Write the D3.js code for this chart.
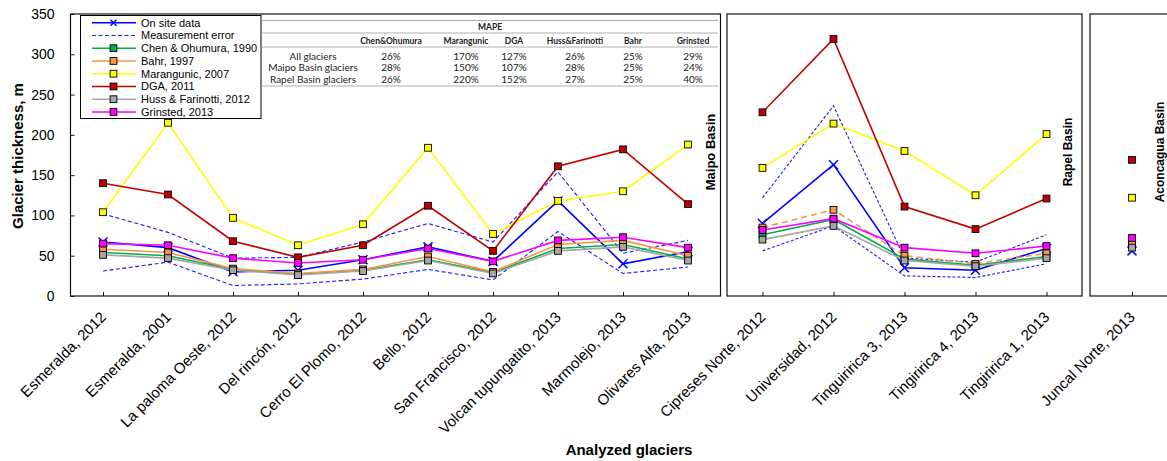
<!DOCTYPE html>
<html>
<head>
<meta charset="utf-8">
<script src="https://cdn.jsdelivr.net/npm/d3@7/dist/d3.min.js"></script>
<style>
  html, body { margin: 0; padding: 0; background: #fff; }
  svg { display: block; }
  text { font-family: "Liberation Sans", Arial, sans-serif; fill: #000; }
</style>
</head>
<body>
<script>
// ---------------- DATA ----------------
const maipoGlaciers = ["Esmeralda, 2012","Esmeralda, 2001","La paloma Oeste, 2012","Del rincón, 2012","Cerro El Plomo, 2012","Bello, 2012","San Francisco, 2012","Volcan tupungatito, 2013","Marmolejo, 2013","Olivares Alfa, 2013"];
const rapelGlaciers = ["Cipreses Norte, 2012","Universidad, 2012","Tinguiririca 3, 2013","Tingiririca 4, 2013","Tingiririca 1, 2013"];
const aconcaguaGlaciers = ["Juncal Norte, 2013"];

// values in glacier order: 10 Maipo, 5 Rapel, 1 Aconcagua
const onSite     = [67, 60, 30, 32, 45, 61, 43, 118, 40, 55,   90, 163, 35, 32, 59,   56];
const errUpper   = [102, 79, 47, 48, 67, 90, 67, 154, 53, 69,  122, 236, 47, 42, 76,  null];
const errLower   = [31, 42, 13, 15, 21, 33, 20, 80, 28, 36,    56, 87, 25, 23, 40,    null];
const chen       = [54, 50, 33, 27, 32, 45, 29, 59, 64, 46,    76, 95, 46, 38, 49,    64];
const bahr       = [58, 54, 34, 28, 33, 49, 30, 64, 69, 50,    85, 107, 50, 40, 53,   67];
const marangunic = [104, 215, 97, 63, 89, 184, 77, 118, 130, 188, 159, 214, 180, 125, 201, 122];
const dga        = [140, 126, 68, 48, 63, 112, 56, 161, 182, 114, 228, 319, 111, 83, 121, 169];
const huss       = [51, 47, 32, 26, 31, 44, 28, 56, 61, 44,    70, 87, 44, 37, 47,    60];
const grinsted   = [65, 63, 47, 41, 45, 59, 43, 69, 73, 60,    82, 96, 60, 53, 62,    72];

const yTicks = [0, 50, 100, 150, 200, 250, 300, 350];

const mapeColumns = ["Chen&Ohumura","Marangunic","DGA","Huss&Farinotti","Bahr","Grinsted"];
const mapeRows = ["All glaciers","Maipo Basin glaciers","Rapel Basin glaciers"];
const mapeAll   = ["26%","170%","127%","26%","25%","29%"];
const mapeMaipo = ["28%","150%","107%","28%","25%","24%"];
const mapeRapel = ["26%","220%","152%","27%","25%","40%"];

// ---------------- SETUP ----------------
const W = 1167, H = 461;
const svg = d3.select("body").append("svg").attr("width", W).attr("height", H);

const y = d3.scaleLinear().domain([0, 350]).range([296, 14]);

const panels = [
  {name: "Maipo Basin", cats: maipoGlaciers, x0: 70.5, x1: 720.5, offset: 0, labelX: 710, labelSize: 13},
  {name: "Rapel Basin", cats: rapelGlaciers, x0: 727, x1: 1082, offset: 10, labelX: 1068, labelSize: 12},
  {name: "Aconcagua Basin", cats: aconcaguaGlaciers, x0: 1090, x1: 1174, offset: 15, labelX: 1160, labelSize: 12}
];
panels.forEach(p => {
  p.x = d3.scalePoint().domain(p.cats).range([p.x0, p.x1]).padding(0.5);
});

const series = [
  {key: "onsite", label: "On site data", values: onSite, color: "#0000ff", marker: "x", width: 1.6},
  {key: "errU", label: "Measurement error", values: errUpper, color: "#1a1aff", marker: null, width: 1.1, dash: "4,2.5"},
  {key: "errL", label: null, values: errLower, color: "#1a1aff", marker: null, width: 1.1, dash: "4,2.5"},
  {key: "chen", label: "Chen & Ohumura, 1990", values: chen, color: "#00b050", marker: "sq", width: 1.6},
  {key: "bahr", label: "Bahr, 1997", values: bahr, color: "#f79646", marker: "sq", width: 1.6},
  {key: "mar", label: "Marangunic, 2007", values: marangunic, color: "#ffff00", marker: "sq", width: 1.6},
  {key: "dga", label: "DGA, 2011", values: dga, color: "#c00000", marker: "sq", width: 1.6},
  {key: "huss", label: "Huss & Farinotti, 2012", values: huss, color: "#a6a6a6", marker: "sq", width: 1.6},
  {key: "grin", label: "Grinsted, 2013", values: grinsted, color: "#ff00ff", marker: "sq", width: 1.6}
];

// frames
panels.forEach(p => {
  svg.append("rect")
    .attr("x", p.x0).attr("y", 14)
    .attr("width", p.x1 - p.x0).attr("height", 282)
    .attr("fill", "#fff").attr("stroke", "#111").attr("stroke-width", 1.2);
});

// Y axis on left panel
const yAxis = d3.axisLeft(y).tickValues(yTicks).tickSizeInner(-4).tickSizeOuter(0).tickPadding(16);
const gy = svg.append("g").attr("transform", "translate(70.5,0)").call(yAxis);
gy.select(".domain").remove();
gy.selectAll("text").style("font-size", "14px").style("font-family", "'Liberation Sans', Arial, sans-serif");
gy.selectAll("line").attr("stroke", "#111");

// X axes
panels.forEach(p => {
  const ax = d3.axisBottom(p.x).tickSizeInner(-4).tickSizeOuter(0).tickFormat("");
  const g = svg.append("g").attr("transform", "translate(0,296)").call(ax);
  g.select(".domain").remove();
  g.selectAll("line").attr("stroke", "#111");
  p.cats.forEach(c => {
    svg.append("text")
      .attr("transform", `translate(${p.x(c) + 4},${318}) rotate(-45)`)
      .attr("text-anchor", "end")
      .style("font-size", "15px")
      .text(c);
  });
  svg.append("text")
    .attr("transform", `translate(${p.labelX},${152}) rotate(-90)`)
    .attr("text-anchor", "middle")
    .attr("dy", "0.35em")
    .style("font-size", p.labelSize + "px")
    .style("font-weight", "bold")
    .text(p.name);
});

// lines and markers
function drawMarker(g, type, cx, cy, color) {
  if (type === "sq") {
    g.append("rect").attr("x", cx - 3.4).attr("y", cy - 3.4).attr("width", 6.8).attr("height", 6.8)
      .attr("fill", color).attr("stroke", "#000").attr("stroke-width", 0.9);
  } else if (type === "x") {
    const s = 4.5;
    g.append("path").attr("d", `M${cx-s},${cy-s}L${cx+s},${cy+s}M${cx-s},${cy+s}L${cx+s},${cy-s}`)
      .attr("stroke", color).attr("stroke-width", 1.5).attr("fill", "none");
  }
}

series.forEach(s => {
  const g = svg.append("g");
  panels.forEach(p => {
    const pts = p.cats.map((c, i) => ({x: p.x(c), v: s.values[p.offset + i]})).filter(d => d.v != null);
    const line = d3.line().x(d => d.x).y(d => y(d.v));
    let dash = s.dash || null;
    if (s.key === "bahr" && p.name === "Rapel Basin") dash = "6,4";
    if (s.dash && p.name === "Rapel Basin") dash = "3,2";
    if (pts.length > 1) {
      g.append("path").datum(pts).attr("d", line)
        .attr("fill", "none").attr("stroke", s.color).attr("stroke-width", s.width)
        .attr("stroke-dasharray", dash);
    }
    if (s.marker) pts.forEach(d => drawMarker(g, s.marker, d.x, y(d.v), s.color));
  });
});

// axis titles
svg.append("text")
  .attr("transform", "translate(23,156) rotate(-90)")
  .attr("text-anchor", "middle")
  .style("font-size", "15px").style("font-weight", "bold")
  .text("Glacier thickness, m");
svg.append("text")
  .attr("x", 629).attr("y", 455)
  .attr("text-anchor", "middle")
  .style("font-size", "15px").style("font-weight", "bold")
  .text("Analyzed glaciers");

// legend
const lg = svg.append("g");
lg.append("rect").attr("x", 80.5).attr("y", 15.5).attr("width", 180.5).attr("height", 103)
  .attr("fill", "#fff").attr("stroke", "#000").attr("stroke-width", 1);
const legendItems = series.filter(s => s.label);
legendItems.forEach((s, i) => {
  const ly = 22.7 + i * 12.75;
  lg.append("line").attr("x1", 92).attr("x2", 136).attr("y1", ly).attr("y2", ly)
    .attr("stroke", s.color).attr("stroke-width", s.width).attr("stroke-dasharray", s.dash || null);
  if (s.marker === "sq") drawMarker(lg, "sq", 113.5, ly, s.color);
  if (s.marker === "x") {
    const sz = 3;
    lg.append("path").attr("d", `M${113.5-sz},${ly-sz}L${113.5+sz},${ly+sz}M${113.5-sz},${ly+sz}L${113.5+sz},${ly-sz}`)
      .attr("stroke", s.color).attr("stroke-width", 1.5);
  }
  lg.append("text").attr("x", 141).attr("y", ly).attr("dy", "0.36em")
    .style("font-size", "11px").text(s.label);
});

// MAPE table
const tg = svg.append("g");
const tf = "Lato, 'Open Sans', sans-serif";
const colX = [391, 466, 514, 575, 633, 693];
const rowY = [56, 67.5, 79];
[20.5, 33, 47, 86].forEach(ly => {
  tg.append("line").attr("x1", 262).attr("x2", 718).attr("y1", ly).attr("y2", ly)
    .attr("stroke", "#9a9a9a").attr("stroke-width", 0.8);
});
tg.append("text").attr("x", 490).attr("y", 27).attr("dy", "0.35em").attr("text-anchor", "middle")
  .style("font-family", tf).style("font-size", "8.5px").style("font-weight", "bold").style("fill", "#222").text("MAPE");
mapeColumns.forEach((c, j) => {
  tg.append("text").attr("x", colX[j]).attr("y", 41).attr("dy", "0.35em").attr("text-anchor", "middle")
    .style("font-family", tf).style("font-size", "8.5px").style("font-weight", "bold").style("fill", "#222").text(c);
});
const mapeVals = [mapeAll, mapeMaipo, mapeRapel];
mapeRows.forEach((r, i) => {
  tg.append("text").attr("x", 313).attr("y", rowY[i]).attr("dy", "0.35em").attr("text-anchor", "middle")
    .style("font-family", tf).style("font-size", "10px").style("fill", "#222").text(r);
  mapeVals[i].forEach((v, j) => {
    tg.append("text").attr("x", colX[j]).attr("y", rowY[i]).attr("dy", "0.35em").attr("text-anchor", "middle")
      .style("font-family", tf).style("font-size", "10px").style("fill", "#222").text(v);
  });
});
</script>
</body>
</html>
